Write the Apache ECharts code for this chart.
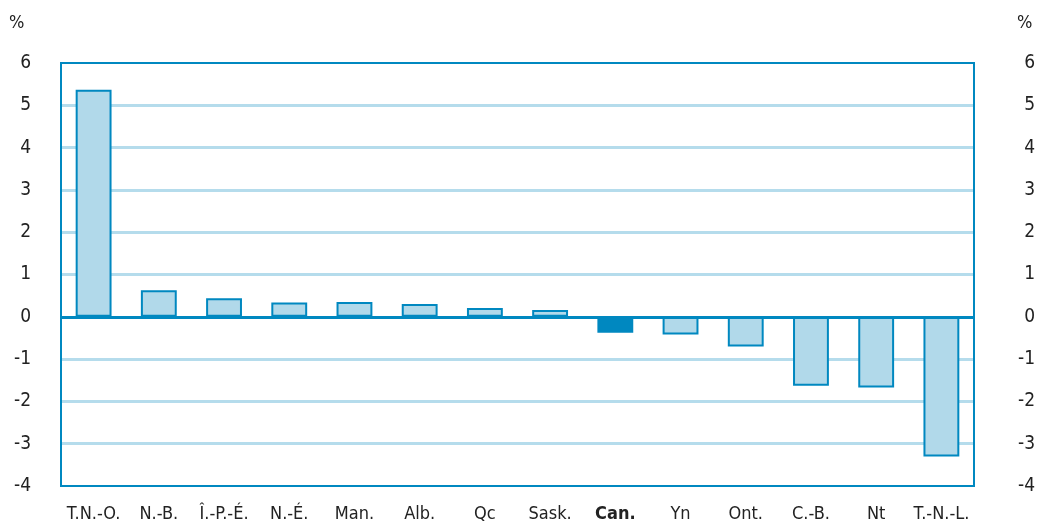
<!DOCTYPE html>
<html><head><meta charset="utf-8">
<script src="https://cdn.jsdelivr.net/npm/echarts@6/dist/echarts.min.js"></script>
<style>html,body{margin:0;padding:0;background:#fff}#c{width:1039px;height:523px}</style>
</head><body><div id="c"></div>
<script>
const categories = ['T.N.-O.','N.-B.','Î.-P.-É.','N.-É.','Man.','Alb.','Qc','Sask.','Can.','Yn','Ont.','C.-B.','Nt','T.-N.-L.'];
const values = [5.37, 0.63, 0.44, 0.34, 0.35, 0.3, 0.21, 0.16, -0.38, -0.42, -0.7, -1.63, -1.67, -3.3];
const highlight = 'Can.';
const yTicks = {min: -4, max: 6, interval: 1};

const FONT = '"DejaVu Sans Condensed","Liberation Sans Narrow",sans-serif';
const DARK = '#0088c0', LIGHT = '#b1d9ea', GRID = '#b5dcec';
const chart = echarts.init(document.getElementById('c'));
const yAxisBase = {
  type: 'value', min: yTicks.min, max: yTicks.max, interval: yTicks.interval,
  axisLine: {show: false}, axisTick: {show: false},
  splitLine: {show: true, showMinLine: false, showMaxLine: false, lineStyle: {color: GRID, width: 3}}
};
chart.setOption({
  animation: false,
  grid: {left: 61, right: 65, top: 63, bottom: 36, show: true, borderColor: DARK, borderWidth: 2, backgroundColor: 'transparent', z: 5},
  xAxis: {
    type: 'category', data: categories,
    axisLine: {show: false}, axisTick: {show: false},
    axisLabel: {
      interval: 0, margin: 19, color: '#222', fontFamily: FONT, fontSize: 18,
      formatter: v => v === highlight ? '{b|' + v + '}' : v,
      rich: {b: {fontWeight: 'bold', fontFamily: FONT, fontSize: 18, color: '#222'}}
    }
  },
  yAxis: [
    Object.assign({}, yAxisBase, {position: 'left', axisLabel: {margin: 30, color: '#222', fontFamily: FONT, fontSize: 19}}),
    Object.assign({}, yAxisBase, {position: 'right', splitLine: {show: false}, axisLabel: {margin: 61, align: 'right', color: '#222', fontFamily: FONT, fontSize: 19}})
  ],
  graphic: [
    {type: 'text', left: 9, top: 14, style: {text: '%', font: '18px ' + FONT, fill: '#222'}},
    {type: 'text', left: 1017, top: 14, style: {text: '%', font: '18px ' + FONT, fill: '#222'}}
  ],
  series: [{
    type: 'bar', barWidth: '55%',
    data: categories.map((c, i) => ({
      value: values[i],
      itemStyle: c === highlight ? {color: DARK, borderColor: DARK, borderWidth: 2} : {color: LIGHT, borderColor: DARK, borderWidth: 2}
    })),
    markLine: {silent: true, symbol: 'none', label: {show: false}, lineStyle: {color: DARK, width: 3, type: 'solid'}, data: [{yAxis: 0}]}
  }]
});
</script></body></html>
